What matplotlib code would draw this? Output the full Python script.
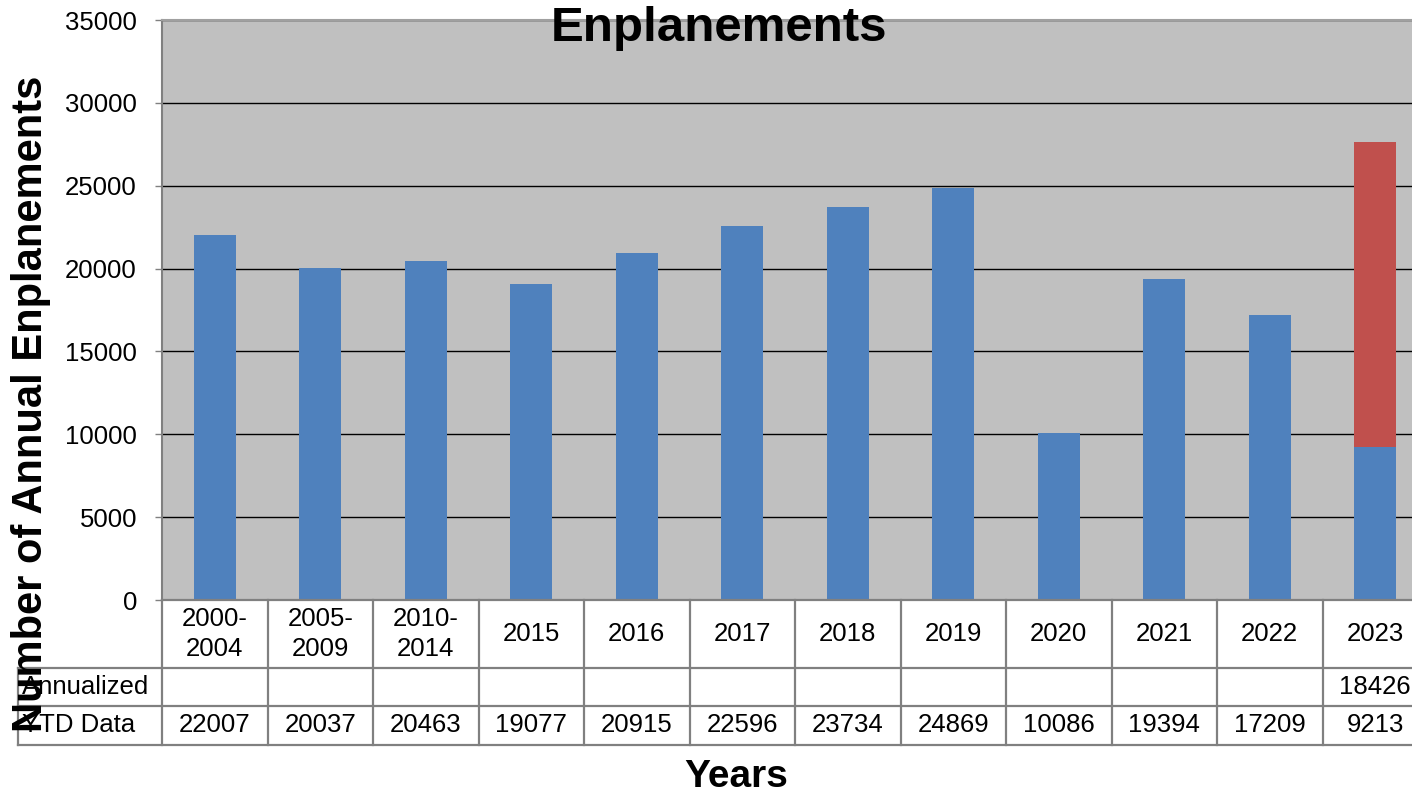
import numpy as np
import matplotlib
matplotlib.use('Agg')
import matplotlib.pyplot as plt

# data
years = ['2000-\n2004', '2005-\n2009', '2010-\n2014', '2015', '2016', '2017',
         '2018', '2019', '2020', '2021', '2022', '2023']
ytd_data = [22007, 20037, 20463, 19077, 20915, 22596, 23734, 24869, 10086, 19394, 17209, 9213]
annualized = [None, None, None, None, None, None, None, None, None, None, None, 18426]
row_labels = ['Annualized', 'YTD Data']

plt.rcParams['font.family'] = ['Liberation Sans', 'DejaVu Sans']

W, H = 1412, 796
fig = plt.figure(figsize=(W / 100, H / 100), dpi=100)
# plot area (right edge runs past the picture, as in the original)
left, right, top, bottom = 162, 1428, 20, 600
ax = fig.add_axes([left / W, 1 - bottom / H, (right - left) / W, (bottom - top) / H])
ax.set_facecolor('#C0C0C0')

x = np.arange(len(years))
blue = '#4F81BD'
red = '#C0504D'
ann_vals = [a if a is not None else 0 for a in annualized]
ax.bar(x, ytd_data, width=0.4, color=blue, zorder=2)
ax.bar(x, ann_vals, width=0.4, bottom=ytd_data, color=red, zorder=2)

ax.set_xlim(-0.5, len(years) - 0.5)
ax.set_ylim(0, 35000)
ax.set_yticks(np.arange(0, 35001, 5000))
ax.yaxis.grid(True, color='black', linewidth=1)
ax.set_axisbelow(True)
ax.set_xticks([])
ax.tick_params(axis='y', length=5, width=1, color='#808080', pad=13, labelsize=18.5)

for s in ['right', 'bottom']:
    ax.spines[s].set_visible(False)
ax.spines['left'].set_color('#808080')
ax.spines['left'].set_linewidth(1.5)
ax.spines['top'].set_color('#A0A0A0')
ax.spines['top'].set_linewidth(1.5)

# data table under the plot
tr = ax.get_xaxis_transform()
ph = bottom - top
y_hdr = -(668 - bottom) / ph
y_ann = -(706 - bottom) / ph
y_ytd = -(745 - bottom) / ph
x_lab = -0.5 + (18 - left) / ((right - left) / len(years))
lc = '#808080'
lw = 1.6

def hline(y, x0, x1):
    ax.plot([x0, x1], [y, y], transform=tr, color=lc, lw=lw, clip_on=False)

def vline(xx, y0, y1):
    ax.plot([xx, xx], [y0, y1], transform=tr, color=lc, lw=lw, clip_on=False)

hline(0, -0.5, len(years) - 0.5)
for yy in [y_hdr, y_ann, y_ytd]:
    hline(yy, x_lab, len(years) - 0.5)
for i in range(len(years) + 1):
    vline(i - 0.5, 0, y_ytd)
vline(x_lab, y_hdr, y_ytd)

fs = 18.5
for i, lab in enumerate(years):
    ax.text(i, y_hdr / 2, lab, transform=tr, ha='center', va='center',
            fontsize=fs, linespacing=1.3)
    if annualized[i] is not None:
        ax.text(i, (y_hdr + y_ann) / 2, str(annualized[i]), transform=tr,
                ha='center', va='center', fontsize=fs)
    ax.text(i, (y_ann + y_ytd) / 2, str(ytd_data[i]), transform=tr,
            ha='center', va='center', fontsize=fs)

ax.text(x_lab + 0.04, (y_hdr + y_ann) / 2, row_labels[0], transform=tr,
        ha='left', va='center', fontsize=fs)
ax.text(x_lab + 0.04, (y_ann + y_ytd) / 2, row_labels[1], transform=tr,
        ha='left', va='center', fontsize=fs)

# titles
fig.text(719 / W, 1 - 41 / H, 'Enplanements', ha='center', va='baseline',
         fontsize=35.5, fontweight='bold')
fig.text(736 / W, 1 - 787 / H, 'Years', ha='center', va='baseline',
         fontsize=28, fontweight='bold')
fig.text(31 / W, 1 - 404 / H, 'Number of Annual Enplanements', ha='center', va='center',
         rotation=90, fontsize=30, fontweight='bold')

fig.savefig('out.png', dpi=100)
